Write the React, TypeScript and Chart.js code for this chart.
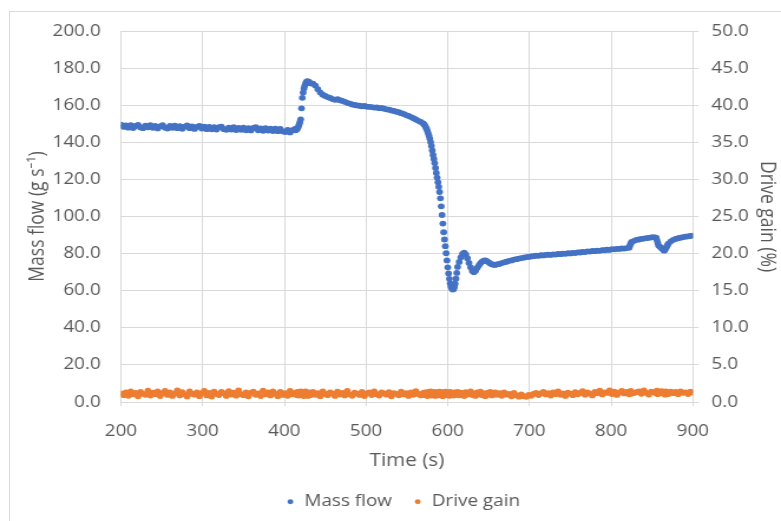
import React, { useEffect, useRef } from "react";
import { Chart, registerables } from "chart.js";

Chart.register(...registerables);

// Sample times (s)
const timeS = [
  200, 203, 206, 209, 212, 215, 218, 221, 224, 227,
  230, 233, 236, 239, 242, 245, 248, 251, 254, 257,
  260, 263, 266, 269, 272, 275, 278, 281, 284, 287,
  290, 293, 296, 299, 302, 305, 308, 311, 314, 317,
  320, 323, 326, 329, 332, 335, 338, 341, 344, 347,
  350, 353, 356, 359, 362, 365, 368, 371, 374, 377,
  380, 383, 386, 389, 392, 395, 398, 401, 404, 407,
  410, 413,
  414, 415, 416, 417, 418, 419, 420, 421, 422, 423,
  424, 425, 426, 427, 428, 429, 430, 431, 432,
  435, 438, 441, 444, 447, 450, 453, 456, 459, 462,
  465, 468, 471, 474, 477, 480, 483, 486, 489, 492,
  495, 498, 501, 504, 507, 510, 513, 516, 519, 522,
  525, 528, 531, 534, 537, 540, 543, 546, 549, 552,
  555, 558, 561, 564, 567, 570,
  571, 572, 573, 574, 575, 576, 577, 578, 579, 580,
  581, 582, 583, 584, 585, 586, 587, 588, 589, 590,
  591, 592, 593, 594, 595, 596, 597, 598, 599, 600,
  601, 602, 603, 604, 605, 606, 607, 608, 609, 610,
  611, 612,
  614, 616, 618, 620, 622, 624, 626, 628, 630, 632,
  634, 636, 638, 640, 642, 644, 646, 648, 650, 652,
  654, 656, 658, 660,
  663, 666, 669, 672, 675, 678, 681, 684, 687, 690,
  693, 696, 699, 702, 705, 708, 711, 714, 717, 720,
  723, 726, 729, 732, 735, 738, 741, 744, 747, 750,
  753, 756, 759, 762, 765, 768, 771, 774, 777, 780,
  783, 786, 789, 792, 795, 798, 801, 804, 807, 810,
  813, 816, 819, 822, 823, 824, 825, 828, 831, 834,
  837, 840, 843, 846, 849, 852, 855, 856, 857, 858,
  860, 862, 864, 865, 866, 867, 868, 869, 870, 873,
  876, 879, 882, 885, 888, 891, 894, 897, 900,
];

// Mass flow (g s-1)
const massFlow = [
  149.5, 148.3, 149.1, 147.9, 149.2, 147.7, 148.8, 149.4, 148.0, 147.6,
  149.0, 148.1, 149.3, 147.8, 148.9, 147.5, 148.6, 149.2, 147.9, 147.4,
  148.8, 147.8, 149.0, 147.6, 148.7, 147.3, 148.5, 149.1, 147.6, 148.6,
  147.2, 148.3, 148.9, 147.4, 148.5, 147.1, 148.3, 147.0, 148.2, 146.9,
  148.1, 148.4, 147.1, 146.7, 147.9, 146.9, 148.1, 146.6, 147.8, 146.7,
  147.9, 146.5, 147.6, 146.4, 147.7, 148.2, 146.5, 147.5, 146.2, 147.6,
  146.3, 147.4, 146.1, 147.3, 146.0, 147.2, 145.9, 145.5, 146.7, 145.3,
  146.5, 147.2,
  146.5, 146.9, 147.5, 148.3, 149.4, 150.8, 152.4, 158.3, 164.0, 166.8,
  169.0, 170.6, 171.8, 172.6, 172.9, 172.4, 172.7, 172.0, 171.8,
  171.6, 170.6, 168.6, 166.8, 165.7, 165.0, 164.4, 163.9, 163.3, 162.9,
  163.2, 162.7, 162.3, 161.8, 161.3, 160.9, 160.4, 160.1, 159.9, 159.7,
  159.4, 159.6, 159.2, 159.1, 159.0, 158.7, 158.8, 158.4, 158.5, 158.1,
  157.8, 157.6, 157.2, 156.9, 156.5, 156.2, 155.7, 155.3, 154.7, 154.2,
  153.6, 153.0, 152.3, 151.6, 151.0, 150.2,
  149.6, 149.0, 148.2, 147.3, 146.2, 145.0, 143.6, 142.0, 140.1, 138.0,
  135.6, 133.2, 131.0, 128.8, 126.2, 123.5, 121.0, 118.5, 116.0, 113.2,
  109.8, 105.5, 100.8, 96.2, 91.5, 87.6, 84.0, 80.2, 76.3, 72.6,
  69.3, 66.4, 64.0, 62.3, 61.2, 60.6, 60.8, 61.9, 63.8, 66.5,
  69.6, 72.8,
  75.5, 78.0, 79.8, 80.5, 79.6, 77.5, 75.0, 72.6, 70.6, 70.0,
  70.8, 72.3, 73.6, 74.8, 75.7, 76.2, 76.3, 75.9, 75.3, 74.7,
  74.2, 74.0, 73.9, 74.2,
  74.4, 74.9, 75.3, 75.6, 76.1, 76.3, 76.8, 77.0, 77.3, 77.6,
  77.8, 78.1, 78.2, 78.5, 78.6, 78.9, 78.8, 79.1, 79.0, 79.3,
  79.4, 79.3, 79.6, 79.5, 79.8, 79.7, 80.0, 79.9, 80.2, 80.1,
  80.4, 80.3, 80.7, 80.6, 80.9, 80.8, 81.2, 81.1, 81.4, 81.3,
  81.6, 81.5, 81.9, 81.8, 82.1, 82.0, 82.4, 82.3, 82.6, 82.5,
  82.8, 82.7, 83.0, 83.2, 84.4, 85.5, 86.3, 86.9, 87.4, 87.6,
  87.9, 88.1, 88.3, 88.5, 88.7, 88.9, 88.6, 87.3, 85.8, 84.3,
  83.6, 82.8, 82.0, 81.6, 82.2, 83.0, 83.8, 84.6, 85.4, 86.6,
  87.4, 87.9, 88.3, 88.6, 88.9, 89.1, 89.3, 89.5, 89.7,
];

// Drive gain (%)
const driveGain = [
  1.15, 0.92, 1.31, 0.84, 1.44, 1.02, 1.22, 0.77, 1.37, 1.10,
  0.97, 1.52, 0.86, 1.26, 1.06, 1.42, 0.80, 1.18, 1.48, 0.95,
  1.28, 0.82, 1.14, 1.56, 0.89, 1.33, 1.04, 0.75, 1.44, 1.12,
  0.99, 1.29, 0.79, 1.20, 1.50, 0.88, 1.24, 0.74, 1.39, 1.08,
  0.94, 1.35, 1.17, 0.82, 1.46, 1.00, 1.26, 0.85, 1.55, 1.06,
  0.92, 1.31, 0.77, 1.22, 1.40, 0.97, 1.15, 0.80, 1.52, 1.02,
  1.28, 0.88, 1.44, 1.10, 0.79, 1.35, 0.95, 1.20, 0.84, 1.48,
  1.04, 1.24,
  1.13, 0.94, 1.37, 0.86, 1.28, 1.02, 1.44, 0.89, 1.19, 1.33,
  0.80, 1.10, 1.42, 0.99, 1.24, 0.82, 1.31, 1.06, 0.92,
  1.35, 0.97, 1.20, 0.79, 1.44, 1.08, 0.92, 1.29, 1.13, 0.82,
  1.39, 1.00, 1.22, 0.88, 1.50, 1.04, 0.84, 1.26, 1.12, 0.95,
  1.37, 0.80, 1.17, 1.31, 0.94, 1.44, 1.06, 0.86, 1.28, 1.15,
  0.99, 1.33, 0.77, 1.20, 1.10, 0.90, 1.39, 1.02, 1.18, 0.82,
  1.29, 0.97, 1.46, 1.08, 0.88, 1.24,
  1.04, 1.31, 0.92, 1.20, 0.80, 1.37, 1.12, 0.97, 1.44, 0.86,
  1.26, 1.02, 1.17, 1.35, 0.82, 1.08, 1.29, 0.94, 1.22, 1.40,
  0.88, 1.13, 1.33, 0.79, 1.18, 1.00, 1.39, 1.06, 0.92, 1.28,
  1.15, 0.84, 1.35, 0.99, 1.24, 1.10, 0.86, 1.31, 0.95, 1.20,
  1.04, 1.37,
  0.90, 1.26, 1.10, 0.80, 1.33, 1.00, 1.20, 1.42, 0.94, 1.13,
  0.82, 1.29, 1.06, 1.39, 0.92, 1.17, 0.79, 1.24, 1.02, 1.35,
  0.88, 1.12, 1.28, 0.97,
  1.18, 0.84, 1.31, 0.99, 1.10, 0.77, 1.22, 0.92, 0.72, 1.04,
  0.79, 0.70, 0.97, 0.84, 1.08, 1.24, 0.94, 1.15, 1.35, 1.02,
  1.20, 0.86, 1.29, 1.06, 1.44, 0.97, 1.17, 0.82, 1.26, 1.12,
  0.92, 1.33, 1.04, 1.22, 1.46, 0.99, 1.28, 1.13, 0.88, 1.37,
  1.17, 1.52, 1.02, 1.31, 1.22, 1.55, 1.08, 1.39, 0.95, 1.26,
  1.48, 1.15, 1.35, 1.04, 1.29, 1.50, 1.13, 1.20, 1.33, 1.42,
  1.10, 1.56, 1.24, 1.01, 1.40, 1.31, 1.17, 1.53, 1.06, 1.37,
  1.26, 1.46, 1.13, 1.33, 0.99, 1.42, 1.22, 1.29, 1.08, 1.40,
  1.19, 1.35, 1.06, 1.44, 1.24, 1.31, 1.08, 1.39, 1.28,
];

const seriesNames = ["Mass flow", "Drive gain"];
const seriesColors = ["#4472C4", "#ED7D31"];
const xTitle = "Time (s)";
const yTitle = "Mass flow (g s\u207B\u00B9)";
const y2Title = "Drive gain (%)";

const TEXT = "#595959";
const GRID = "#d9d9d9";
const FONT = "'Open Sans', 'Noto Sans', sans-serif";

export default function App() {
  const ref = useRef<HTMLCanvasElement | null>(null);

  useEffect(() => {
    if (!ref.current) return;
    const mass = timeS.map((t, i) => ({ x: t, y: massFlow[i] }));
    const gain = timeS.map((t, i) => ({ x: t, y: driveGain[i] }));
    const tickFont = { family: FONT, size: 16 };
    const titleFont = { family: FONT, size: 17.5 };
    const chart = new Chart(ref.current, {
      type: "scatter",
      data: {
        datasets: [
          {
            label: seriesNames[0],
            data: mass,
            yAxisID: "y",
            backgroundColor: seriesColors[0],
            borderColor: seriesColors[0],
            borderWidth: 0,
            pointRadius: 2.9,
          },
          {
            label: seriesNames[1],
            data: gain,
            yAxisID: "y2",
            backgroundColor: seriesColors[1],
            borderColor: seriesColors[1],
            borderWidth: 0,
            pointRadius: 2.9,
          },
        ],
      },
      options: {
        responsive: false,
        animation: false,
        devicePixelRatio: 1,
        layout: { padding: { left: 21, top: 31, right: 0, bottom: 1.3 } },
        plugins: {
          tooltip: { enabled: false },
          legend: {
            position: "bottom",
            labels: {
              usePointStyle: true,
              pointStyle: "circle",
              boxWidth: 7.8,
              boxHeight: 3.5,
              padding: 18,
              color: TEXT,
              font: { family: FONT, size: 16 },
            },
          },
        },
        scales: {
          x: {
            type: "linear",
            min: 200,
            max: 900,
            ticks: { stepSize: 100, color: TEXT, font: tickFont, padding: 15.9 },
            grid: { color: GRID, tickLength: 4, drawTicks: true },
            border: { color: GRID },
            title: {
              display: true,
              text: xTitle,
              color: TEXT,
              font: titleFont,
              padding: { top: 0, bottom: 4.2 },
            },
            afterFit: (s: any) => {
              s.height = 73.7;
            },
          },
          y: {
            position: "left",
            min: 0,
            max: 200,
            ticks: {
              stepSize: 20,
              color: TEXT,
              font: tickFont,
              padding: 17.2,
              callback: (v: any) => Number(v).toFixed(1),
            },
            grid: { color: GRID, drawTicks: false },
            border: { display: false },
            title: {
              display: true,
              text: yTitle,
              color: TEXT,
              font: titleFont,
              padding: { top: 0.7, bottom: 0 },
            },
            afterFit: (s: any) => {
              s.width = 81.5;
            },
          },
          y2: {
            position: "right",
            min: 0,
            max: 50,
            ticks: {
              stepSize: 5,
              color: TEXT,
              font: tickFont,
              padding: 10.8,
              callback: (v: any) => Number(v).toFixed(1),
            },
            grid: { color: GRID, drawOnChartArea: false, drawTicks: true, tickLength: 5 },
            border: { display: false },
            title: {
              display: true,
              text: y2Title,
              color: TEXT,
              font: titleFont,
              padding: { top: 1.5, bottom: 0 },
            },
            afterFit: (s: any) => {
              s.width = 74.7;
            },
          },
        },
      },
    } as any);
    return () => chart.destroy();
  }, []);

  return (
    <div
      style={{
        position: "fixed",
        left: 0,
        top: 0,
        width: 781,
        height: 521,
        background: "#ffffff",
        overflow: "hidden",
      }}
    >
      <div
        style={{
          position: "absolute",
          left: 9,
          top: 11,
          width: 820,
          height: 600,
          border: "1px solid #d9d9d9",
          boxSizing: "border-box",
        }}
      />
      <canvas
        ref={ref}
        width={662}
        height={521}
        style={{ position: "absolute", left: 0, top: 0, width: "781px", height: "521px" }}
      />
    </div>
  );
}
